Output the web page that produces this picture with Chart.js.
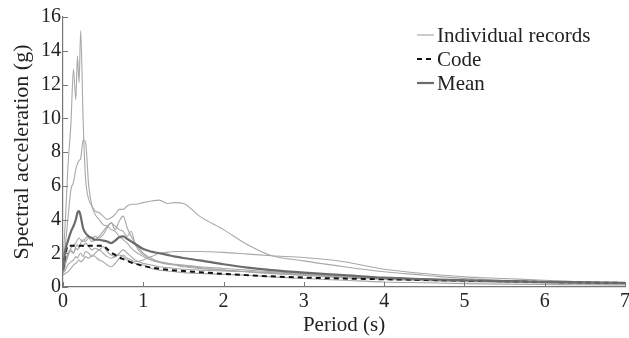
<!DOCTYPE html>
<html>
<head>
<meta charset="utf-8">
<script src="https://cdn.jsdelivr.net/npm/chart.js@4.4.1/dist/chart.umd.min.js"></script>
<style>
  html, body { margin: 0; padding: 0; background: #fff; }
  #wrap { width: 629px; height: 338px; }
</style>
</head>
<body>
<div id="wrap"><canvas id="spectraChart"></canvas></div>
<script>
// period grid (s), shared by all curves
const periods = [0, 0.03, 0.06, 0.1, 0.13, 0.16, 0.18, 0.2, 0.22, 0.25, 0.28, 0.32, 0.36, 0.4, 0.45, 0.5,
    0.55, 0.6, 0.65, 0.7, 0.75, 0.8, 0.85, 0.9, 1.0, 1.1, 1.2, 1.3, 1.4, 1.5, 1.7, 2.0, 2.3, 2.6, 3.0,
    3.5, 4.0, 4.5, 5.0, 5.5, 6.0, 6.5, 7.0];

// individual records (g)
const recordA = [1.5, 4.0, 7.0, 9.8, 12.9, 11.1, 13.7, 12.1, 15.2, 10.0, 6.5, 5.2, 4.8, 4.5, 4.4, 4.2,
    4.0, 4.1, 4.3, 4.6, 4.6, 4.8, 4.9, 4.9, 5.0, 5.1, 5.15, 4.95, 5.0, 4.95, 4.2, 3.4, 2.5, 1.85, 1.55,
    1.2, 0.9, 0.7, 0.5, 0.4, 0.3, 0.25, 0.2];
const recordB = [1.2, 2.5, 4.0, 5.8, 6.2, 7.0, 7.3, 7.5, 7.6, 8.7, 8.6, 6.0, 4.8, 4.3, 4.0, 3.7,
    3.6, 3.4, 3.3, 3.0, 2.8, 2.6, 2.3, 2.1, 1.8, 1.6, 1.45, 1.35, 1.3, 1.25, 1.15, 1.0, 0.9, 0.8, 0.7,
    0.55, 0.45, 0.38, 0.32, 0.28, 0.24, 0.2, 0.18];
const recordC = [1.0, 1.5, 2.0, 2.3, 2.5, 2.6, 2.8, 2.9, 2.8, 2.7, 2.9, 3.0, 2.9, 3.0, 2.9, 3.1,
    3.5, 3.8, 3.4, 3.9, 4.2, 3.5, 3.0, 2.6, 2.0, 1.7, 1.5, 1.4, 1.35, 1.3, 1.2, 1.1, 1.0, 0.9, 0.8,
    0.65, 0.5, 0.42, 0.35, 0.3, 0.25, 0.22, 0.2];
const recordD = [0.8, 1.3, 1.8, 2.2, 2.0, 2.4, 2.5, 2.3, 2.6, 2.8, 2.7, 2.9, 2.7, 2.8, 3.0, 3.3,
    3.6, 3.8, 3.6, 3.4, 3.3, 3.0, 3.3, 2.5, 1.9, 1.6, 1.5, 1.4, 1.3, 1.2, 1.1, 1.0, 0.9, 0.8, 0.7,
    0.6, 0.5, 0.42, 0.36, 0.3, 0.25, 0.2, 0.17];
const recordE = [0.7, 0.8, 0.9, 1.1, 1.3, 1.4, 1.5, 1.6, 1.5, 1.6, 1.8, 1.7, 1.9, 1.8, 1.6, 1.5,
    1.3, 1.2, 1.4, 1.7, 1.9, 1.7, 1.6, 1.5, 1.6, 1.8, 2.0, 2.05, 2.1, 2.1, 2.1, 2.05, 1.95, 1.85, 1.75,
    1.5, 1.05, 0.8, 0.6, 0.5, 0.4, 0.3, 0.25];
const recordF = [1.0, 1.5, 1.9, 2.1, 2.0, 2.3, 2.2, 2.4, 2.5, 2.4, 2.6, 2.4, 2.2, 2.3, 2.2, 2.4,
    2.1, 1.9, 1.8, 2.0, 2.2, 2.0, 1.8, 1.6, 1.4, 1.3, 1.2, 1.15, 1.1, 1.05, 1.0, 0.95, 0.9, 0.85, 0.75,
    0.65, 0.55, 0.45, 0.4, 0.35, 0.3, 0.27, 0.25];
const recordG = [0.8, 1.0, 1.3, 1.5, 1.6, 1.8, 1.7, 1.9, 2.0, 1.8, 2.1, 2.0, 1.8, 2.0, 2.2, 2.0,
    1.8, 1.7, 1.8, 1.9, 1.8, 1.6, 1.5, 1.4, 1.3, 1.1, 1.0, 0.95, 0.9, 0.85, 0.8, 0.75, 0.7, 0.6, 0.5,
    0.4, 0.3, 0.25, 0.2, 0.17, 0.15, 0.13, 0.12];

// code spectrum and mean of records (g)
const codeSpectrum = [1.0, 1.9, 2.45, 2.45, 2.45, 2.45, 2.45, 2.45, 2.45, 2.45, 2.45, 2.45, 2.45, 2.45, 2.45, 2.45,
    2.25, 2.05, 1.9, 1.75, 1.65, 1.55, 1.45, 1.38, 1.25, 1.15, 1.08, 1.02, 0.98, 0.95, 0.88, 0.78, 0.7, 0.63, 0.56,
    0.5, 0.46, 0.42, 0.38, 0.34, 0.3, 0.27, 0.24];
const meanSpectrum = [1.0, 2.2, 2.7, 3.3, 3.6, 4.0, 4.4, 4.5, 4.2, 3.5, 3.2, 3.0, 2.9, 2.8, 2.8, 2.75,
    2.7, 2.6, 2.75, 2.95, 3.0, 2.85, 2.7, 2.55, 2.25, 2.1, 2.0, 1.9, 1.8, 1.72, 1.58, 1.35, 1.15, 1.0, 0.85,
    0.7, 0.55, 0.47, 0.4, 0.35, 0.3, 0.27, 0.25];

const xTicks = [0, 1, 2, 3, 4, 5, 6, 7];
const yTicks = [0, 2, 4, 6, 8, 10, 12, 14, 16];
const legendLabels = ['Individual records', 'Code', 'Mean'];

const records = [recordA, recordB, recordC, recordD, recordE, recordF, recordG];

function toPoints(values) {
    return values.map(function(v, i) { return { x: periods[i], y: v }; });
}

const FONT = '"Liberation Serif", "Times New Roman", serif';

let datasets = [
    {
        label: 'Mean',
        data: toPoints(meanSpectrum),
        borderColor: '#6b6b6b',
        borderWidth: 2.2
    },
    {
        label: 'Code',
        data: toPoints(codeSpectrum),
        borderColor: '#111111',
        borderWidth: 2,
        borderDash: [5, 4]
    }
];
records.forEach(function(rec, i) {
    datasets.push({
        label: 'Record ' + (i + 1),
        data: toPoints(rec),
        borderColor: '#a8a8a8',
        borderWidth: 1.1
    });
});

// inward tick marks + legend drawn in the plot area
const extras = {
    id: 'extras',
    afterDraw(chart) {
        const ctx = chart.ctx;
        const xs = chart.scales.x, ys = chart.scales.y;
        const area = chart.chartArea;
        ctx.save();
        ctx.strokeStyle = '#777';
        ctx.lineWidth = 1;
        xTicks.forEach(function(t) {
            const px = Math.round(xs.getPixelForValue(t)) + 0.5;
            ctx.beginPath();
            ctx.moveTo(px, area.bottom);
            ctx.lineTo(px, area.bottom - 5);
            ctx.stroke();
        });
        yTicks.forEach(function(t) {
            const py = Math.round(ys.getPixelForValue(t)) + 0.5;
            ctx.beginPath();
            ctx.moveTo(area.left, py);
            ctx.lineTo(area.left + 5, py);
            ctx.stroke();
        });

        // legend
        const styles = [
            { color: '#a8a8a8', width: 1.2, dash: [] },
            { color: '#111111', width: 2, dash: [5, 4] },
            { color: '#6b6b6b', width: 2.2, dash: [] }
        ];
        const lx = 417, ly = 35, step = 24;
        ctx.font = '21px ' + FONT;
        ctx.textBaseline = 'middle';
        ctx.fillStyle = '#222';
        legendLabels.forEach(function(lbl, i) {
            const y = ly + i * step;
            ctx.beginPath();
            ctx.setLineDash(styles[i].dash);
            ctx.strokeStyle = styles[i].color;
            ctx.lineWidth = styles[i].width;
            ctx.moveTo(lx, y);
            ctx.lineTo(lx + 17, y);
            ctx.stroke();
            ctx.setLineDash([]);
            ctx.fillText(lbl, lx + 20, y + 1);
        });
        ctx.restore();
    }
};

const ctx = document.getElementById('spectraChart').getContext('2d');
const spectraChart = new Chart(ctx, {
    type: 'line',
    data: { datasets: datasets },
    plugins: [extras],
    options: {
        responsive: true,
        maintainAspectRatio: false,
        animation: false,
        events: [],
        layout: { padding: { top: 17, right: 4, left: 0, bottom: 0 } },
        elements: {
            point: { radius: 0 },
            line: { tension: 0, cubicInterpolationMode: 'monotone', fill: false }
        },
        plugins: {
            legend: { display: false },
            tooltip: { enabled: false }
        },
        scales: {
            x: {
                type: 'linear',
                min: 0,
                max: 7,
                afterBuildTicks: function(scale) {
                    scale.ticks = xTicks.map(function(v) { return { value: v }; });
                },
                afterFit: function(scale) {
                    scale.height = 51;
                    scale.paddingLeft = 0;
                    scale.paddingRight = 0;
                },
                ticks: {
                    color: '#222',
                    font: { family: FONT, size: 20 },
                    padding: 3,
                    maxRotation: 0
                },
                grid: { display: false, drawTicks: false },
                border: { display: true, color: '#777', width: 1.2 },
                title: {
                    display: true,
                    text: 'Period (s)',
                    color: '#222',
                    font: { family: FONT, size: 21 },
                    padding: { top: 0, bottom: 0 }
                }
            },
            y: {
                type: 'linear',
                min: 0,
                max: 16,
                afterBuildTicks: function(scale) {
                    scale.ticks = yTicks.map(function(v) { return { value: v }; });
                },
                afterFit: function(scale) {
                    scale.width = 63;
                    scale.paddingTop = 0;
                    scale.paddingBottom = 0;
                },
                ticks: {
                    color: '#222',
                    font: { family: FONT, size: 20 },
                    padding: 2
                },
                grid: { display: false, drawTicks: false },
                border: { display: true, color: '#777', width: 1.2 },
                title: {
                    display: true,
                    text: 'Spectral acceleration (g)',
                    color: '#222',
                    font: { family: FONT, size: 22 },
                    padding: { top: 9, bottom: 9 }
                }
            }
        }
    }
});
</script>
</body>
</html>
